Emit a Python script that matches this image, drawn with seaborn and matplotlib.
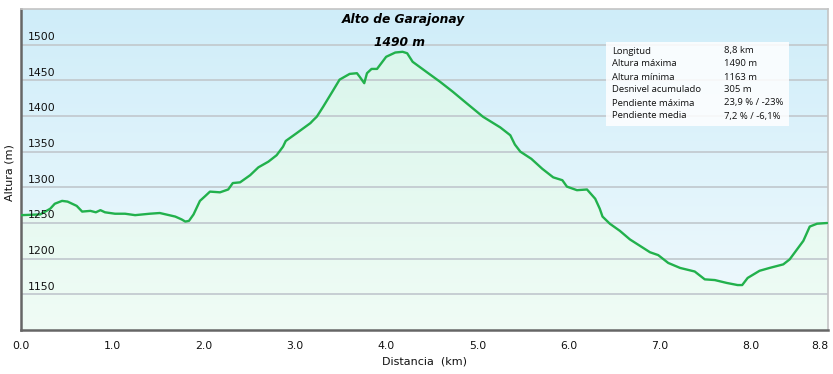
import numpy as np
import pandas as pd
import matplotlib
matplotlib.use("Agg")
import matplotlib.pyplot as plt
import matplotlib.transforms as mtransforms
from matplotlib.colors import LinearSegmentedColormap
import seaborn as sns

# ---- data ----
dist_km = [0.00, 0.21, 0.32, 0.37, 0.45, 0.51, 0.61, 0.67, 0.76, 0.82, 0.87, 0.92,
           1.03, 1.14, 1.25, 1.41, 1.52, 1.69, 1.76, 1.80, 1.84, 1.89, 1.96, 2.02,
           2.07, 2.18, 2.27, 2.32, 2.40, 2.51, 2.60, 2.71, 2.80, 2.87, 2.90, 3.02,
           3.17, 3.20, 3.24, 3.31, 3.41, 3.49, 3.60, 3.68, 3.71, 3.76, 3.79, 3.84,
           3.90, 4.00, 4.10, 4.18, 4.23, 4.29, 4.45, 4.59, 4.73, 4.88, 5.06, 5.25,
           5.36, 5.41, 5.47, 5.59, 5.65, 5.71, 5.83, 5.93, 5.98, 6.09, 6.20, 6.29,
           6.34, 6.37, 6.45, 6.56, 6.67, 6.78, 6.89, 6.98, 7.09, 7.22, 7.38, 7.49,
           7.60, 7.73, 7.85, 7.90, 7.96, 8.09, 8.20, 8.35, 8.42, 8.57, 8.64, 8.72,
           8.83]
altura_m = [1261, 1262, 1270, 1277, 1281, 1280, 1274, 1266, 1267, 1265, 1268, 1265,
            1263, 1263, 1261, 1263, 1264, 1259, 1255, 1252, 1253, 1262, 1281, 1288,
            1294, 1293, 1297, 1306, 1307, 1317, 1328, 1336, 1345, 1357, 1365, 1376,
            1390, 1394, 1399, 1413, 1434, 1451, 1459, 1460, 1455, 1446, 1460, 1466,
            1466, 1483, 1489, 1490, 1488, 1476, 1461, 1448, 1434, 1418, 1399, 1384,
            1373, 1360, 1350, 1340, 1333, 1326, 1314, 1310, 1301, 1296, 1297, 1284,
            1270, 1259, 1249, 1239, 1227, 1218, 1209, 1205, 1194, 1187, 1182, 1171,
            1170, 1166, 1163, 1163, 1173, 1183, 1187, 1192, 1199, 1225, 1245, 1249,
            1250]

x_ticks = [0.0, 1.0, 2.0, 3.0, 4.0, 5.0, 6.0, 7.0, 8.0, 8.84]
x_tick_labels = ["0.0", "1.0", "2.0", "3.0", "4.0", "5.0", "6.0", "7.0", "8.0", "8.8"]
y_ticks = [1150, 1200, 1250, 1300, 1350, 1400, 1450, 1500]

peak_name = "Alto de Garajonay"
peak_label = "1490 m"
peak_x, peak_y = 4.18, 1490

info_labels = ["Longitud", "Altura máxima", "Altura mínima", "Desnivel acumulado",
               "Pendiente máxima", "Pendiente media"]
info_values = ["8,8 km", "1490 m", "1163 m", "305 m", "23,9 % / -23%", "7,2 % / -6,1%"]

df = pd.DataFrame({"Distancia": dist_km, "Altura": altura_m})

# ---- figure ----
sns.set_style("white")
plt.rcParams['font.family'] = ['DejaVu Sans']
W, H = 833, 374
fig = plt.figure(figsize=(W / 100, H / 100), dpi=100)
ax = fig.add_axes([21 / W, 1 - 330 / H, (828 - 21) / W, (330 - 9) / H])

XMIN, XMAX, YMIN, YMAX = 0, 8.84, 1100, 1550
ax.set_xlim(XMIN, XMAX)
ax.set_ylim(YMIN, YMAX)

# background gradient (light blue top -> near white bottom)
bg = LinearSegmentedColormap.from_list("bg", ["#f1fafd", "#cfedf9"])
grad = np.linspace(0, 1, 256).reshape(-1, 1)
ax.imshow(grad, cmap=bg, origin="lower", aspect="auto",
          extent=[XMIN, XMAX, YMIN, YMAX], zorder=0)

# green gradient fill under the profile
gf = LinearSegmentedColormap.from_list("gf", ["#f0fcf5", "#daf6ec"])
img = ax.imshow(grad, cmap=gf, origin="lower", aspect="auto",
                extent=[XMIN, XMAX, YMIN, 1490], zorder=1)
poly = ax.fill_between(df["Distancia"], df["Altura"], YMIN, color="none", lw=0)
img.set_clip_path(poly.get_paths()[0], transform=ax.transData)

# gridlines
for v in y_ticks:
    ax.axhline(v, color="#c3cbd0", lw=1.3, zorder=2)
    ax.annotate(str(v), xy=(0, v), xycoords=("axes fraction", "data"),
                xytext=(5, 2), textcoords="offset points", ha="left", va="bottom",
                fontsize=7.8, color="#111111", zorder=5)

# profile line
sns.lineplot(data=df, x="Distancia", y="Altura", ax=ax, color="#22b14c",
             lw=1.7, zorder=4, legend=False)

# axes styling
ax.set_yticks([])
ax.set_xticks(x_ticks)
ax.set_xticklabels(x_tick_labels, fontsize=7.8, color="#111111")
last = ax.get_xticklabels()[-1]
last.set_ha("right")
last.set_transform(last.get_transform() +
                   mtransforms.ScaledTranslation(3 / 72, 0, fig.dpi_scale_trans))
ax.tick_params(axis="x", direction="out", length=4, width=1, color="#333333", pad=4)
ax.set_xlabel("Distancia  (km)", fontsize=8, color="#111111", labelpad=4)
ax.set_ylabel("Altura (m)", fontsize=8, color="#111111", va="center", ha="center")
ax.yaxis.set_label_coords(-11 / 807, 0.49)
for side in ["left", "bottom"]:
    ax.spines[side].set_color("#666666")
    ax.spines[side].set_linewidth(1.8)
for side in ["top", "right"]:
    ax.spines[side].set_color("#c4c4c4")
    ax.spines[side].set_linewidth(1.2)

# peak annotation
ax.annotate(peak_name, xy=(peak_x, peak_y), xycoords="data",
            xytext=(403, H - 20), textcoords="figure pixels",
            ha="center", va="center", fontsize=8.8, fontweight="bold",
            fontstyle="italic", color="#000000", zorder=6)
ax.annotate(peak_label, xy=(peak_x, peak_y), xycoords="data",
            xytext=(400, H - 42), textcoords="figure pixels",
            ha="center", va="center", fontsize=8.8, fontweight="bold",
            fontstyle="italic", color="#000000", zorder=6)

# info box
box = plt.Rectangle((606 / W, 1 - 126 / H), (789 - 606) / W, (126 - 42) / H,
                    transform=fig.transFigure, facecolor="#ffffff", alpha=0.85,
                    edgecolor="none", zorder=7)
fig.patches.append(box)
y0 = 51
for i, (lab, val) in enumerate(zip(info_labels, info_values)):
    yy = 1 - (y0 + i * 13) / H
    fig.text(612 / W, yy, lab, fontsize=6.8, va="center", ha="left",
             color="#111111", family="Open Sans", zorder=8)
    fig.text(724 / W, yy, val, fontsize=6.8, va="center", ha="left",
             color="#111111", family="Open Sans", zorder=8)

fig.savefig("out.png", dpi=100)
